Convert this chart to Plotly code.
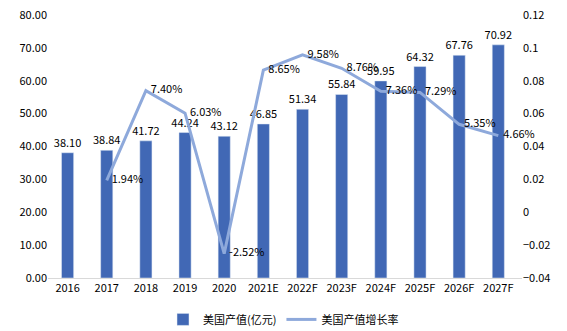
import plotly.graph_objects as go

years = ["2016", "2017", "2018", "2019", "2020", "2021E", "2022F", "2023F", "2024F", "2025F", "2026F", "2027F"]
output_values = [38.10, 38.84, 41.72, 44.24, 43.12, 46.85, 51.34, 55.84, 59.95, 64.32, 67.76, 70.92]
growth_years = ["2017", "2018", "2019", "2020", "2021E", "2022F", "2023F", "2024F", "2025F", "2026F", "2027F"]
growth_rates = [0.0194, 0.0740, 0.0603, -0.0252, 0.0865, 0.0958, 0.0876, 0.0736, 0.0729, 0.0535, 0.0466]

font_family = "Noto Sans CJK SC, DejaVu Sans"

fig = go.Figure()
fig.add_trace(go.Bar(
    x=years, y=output_values, name="美国产值(亿元)",
    marker_color="#4168B5", width=0.31,
    text=[f"{v:.2f}" for v in output_values], textposition="outside",
    constraintext="none",
    textfont=dict(size=11, color="black", family=font_family),
    cliponaxis=False,
))
fig.add_trace(go.Scatter(
    x=growth_years, y=growth_rates, name="美国产值增长率", yaxis="y2",
    mode="lines+text", line=dict(color="#8EA9DB", width=3),
    text=[f"  {v*100:.2f}%" for v in growth_rates], textposition="middle right",
    textfont=dict(size=11, color="black", family=font_family),
    cliponaxis=False,
))
fig.update_layout(
    width=567, height=331,
    margin=dict(l=48, r=45, t=15, b=53, autoexpand=False),
    plot_bgcolor="white", paper_bgcolor="white",
    font=dict(family=font_family, size=11, color="black"),
    xaxis=dict(type="category", showline=True, linecolor="#D9D9D9", linewidth=1,
               ticks="", showgrid=False, tickfont=dict(size=11)),
    yaxis=dict(range=[0, 80], dtick=10, tickformat=".2f", showgrid=False,
               zeroline=False, showline=False, tickfont=dict(size=11)),
    yaxis2=dict(range=[-0.04, 0.12], dtick=0.02, overlaying="y", side="right",
                showgrid=False, zeroline=False, showline=False, tickfont=dict(size=11)),
    legend=dict(orientation="h", x=0.5, xanchor="center", xref="container",
                y=0.035, yanchor="middle", yref="container",
                font=dict(size=11), itemwidth=30),
    showlegend=True,
)
fig.write_html("out.html")
